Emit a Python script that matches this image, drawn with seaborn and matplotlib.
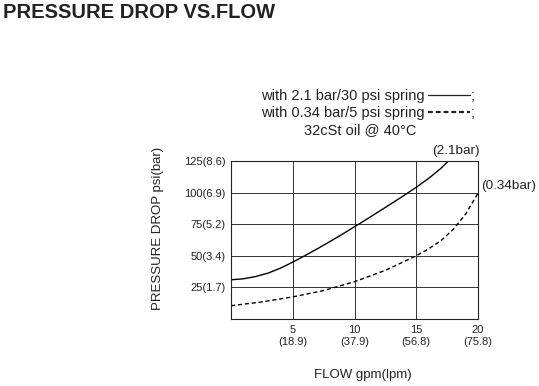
import pandas as pd
import seaborn as sns
import matplotlib.pyplot as plt
from matplotlib.lines import Line2D

# flow (gpm) vs pressure drop (psi)
flow_21 = [0, 1, 2, 3, 4, 5, 6, 7, 8, 9, 10, 11, 12, 13, 14, 15, 16, 17, 17.6]
dp_21 = [31, 31.8, 33.6, 36.3, 40.2, 45, 50.2, 55.6, 61.2, 67, 73, 79, 85.2, 91.4, 97.7, 104.2, 111.2, 119.2, 125]
flow_034 = [0, 2.5, 5, 7.5, 10, 12.5, 15, 16, 17, 18, 19, 20]
dp_034 = [10.5, 13.5, 17.5, 22.5, 29.5, 38.5, 50, 55.5, 62, 71, 83, 99.5]

x_ticks = [5, 10, 15, 20]
x_tick_labels = ['5\n(18.9)', '10\n(37.9)', '15\n(56.8)', '20\n(75.8)']
y_ticks = [25, 50, 75, 100, 125]
y_tick_labels = ['25(1.7)', '50(3.4)', '75(5.2)', '100(6.9)', '125(8.6)']

df = pd.concat([
    pd.DataFrame({'flow': flow_21, 'dp': dp_21, 'spring': '2.1bar'}),
    pd.DataFrame({'flow': flow_034, 'dp': dp_034, 'spring': '0.34bar'}),
])

sns.set_style('white')
plt.rcParams['font.family'] = ['Liberation Sans', 'DejaVu Sans']

W, H = 539, 386
fig = plt.figure(figsize=(W / 100, H / 100), dpi=100)
ax = fig.add_axes([231 / W, 1 - 319 / H, (478 - 231) / W, (319 - 161) / H])

sns.lineplot(data=df, x='flow', y='dp', style='spring', style_order=['2.1bar', '0.34bar'],
             dashes={'2.1bar': '', '0.34bar': (3, 2)}, color='black', linewidth=1.0,
             sort=False, estimator=None, legend=False, ax=ax)

ax.set_xlim(0, 20)
ax.set_ylim(0, 125)
ax.set_xticks(x_ticks)
ax.set_xticklabels(x_tick_labels, fontsize=8, linespacing=1.3, color='#222222')
ax.set_yticks(y_ticks)
ax.set_yticklabels(y_tick_labels, fontsize=8, color='#222222')
ax.tick_params(length=0, pad=4)
ax.grid(True, color='#333333', linewidth=0.7)
for s in ax.spines.values():
    s.set_color('#222222')
    s.set_linewidth(0.8)
ax.set_xlabel('')
ax.set_ylabel('')


def fx(px):
    return px / W


def fy(py):
    return 1 - py / H


fig.text(fx(3), fy(12), 'PRESSURE DROP VS.FLOW', fontsize=14.5, fontweight='bold',
         color='#222222', va='center', ha='left')
fig.text(fx(158), fy(228), 'PRESSURE DROP psi(bar)', fontsize=9.5, rotation=90,
         va='center', ha='center', color='#222222')
fig.text(fx(363), fy(375), 'FLOW gpm(lpm)', fontsize=9.5, va='center', ha='center', color='#222222')

# key lines written out as text with small line samples
fig.text(fx(425), fy(96), 'with 2.1 bar/30 psi spring', fontsize=10.5,
         va='center', ha='right', color='#222222')
fig.text(fx(425), fy(113), 'with 0.34 bar/5 psi spring', fontsize=10.5,
         va='center', ha='right', color='#222222')
fig.text(fx(471), fy(96), ';', fontsize=10.5, va='center', ha='left', color='#222222')
fig.text(fx(471), fy(113), ';', fontsize=10.5, va='center', ha='left', color='#222222')
fig.add_artist(Line2D([fx(428), fx(470)], [fy(94.5), fy(94.5)], color='#222222', linewidth=0.9))
fig.add_artist(Line2D([fx(428), fx(470)], [fy(111.5), fy(111.5)], color='#222222', linewidth=1.6,
                      linestyle=(0, (2.2, 1.3))))
fig.text(fx(360), fy(130), '32cSt oil @ 40°C', fontsize=10.5, va='center', ha='center', color='#222222')
fig.text(fx(456), fy(151), '(2.1bar)', fontsize=9.7, va='center', ha='center', color='#222222')
fig.text(fx(481), fy(186), '(0.34bar)', fontsize=9.7, va='center', ha='left', color='#222222')

fig.savefig('out.png', dpi=100)
